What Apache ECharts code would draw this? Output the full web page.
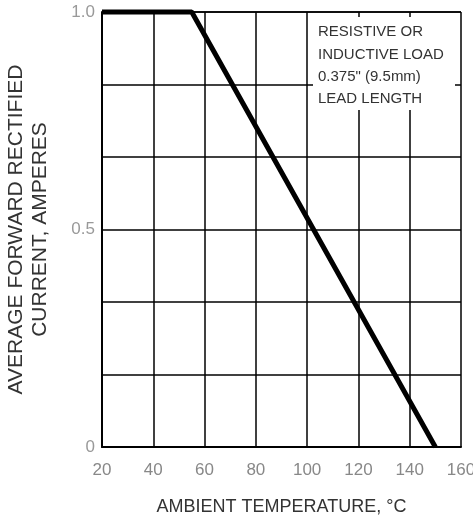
<!DOCTYPE html>
<html><head><meta charset="utf-8">
<script src="https://cdn.jsdelivr.net/npm/echarts@6/dist/echarts.min.js"></script>
<style>html,body{margin:0;padding:0;background:#fff}#c{width:473px;height:520px}</style>
</head><body><div id="c"></div>
<script>
const temperatures = [20, 55, 150];
const currents = [1.0, 1.0, 0];
const xTicks = [20, 40, 60, 80, 100, 120, 140, 160];
const yTickLabels = {"0": "0", "0.5": "0.5", "1": "1.0"};
const xTitle = "AMBIENT TEMPERATURE, \u00B0C";
const yTitle = "AVERAGE FORWARD RECTIFIED\nCURRENT, AMPERES";
const noteLines = ["RESISTIVE OR", "INDUCTIVE LOAD", "0.375\" (9.5mm)", "LEAD LENGTH"];

const font = "Liberation Sans";
const chart = echarts.init(document.getElementById('c'), null, {renderer: 'canvas'});
chart.setOption({
  animation: false,
  backgroundColor: '#fff',
  grid: {left: 102, right: 12, top: 12, bottom: 73, containLabel: false, outerBoundsMode: 'none'},
  xAxis: {
    type: 'value', min: xTicks[0], max: xTicks[xTicks.length - 1], interval: 20,
    name: xTitle, nameLocation: 'middle', nameGap: 51,
    nameTextStyle: {fontFamily: font, fontSize: 18, color: '#333'},
    axisLine: {lineStyle: {color: '#000', width: 2}},
    axisTick: {show: false},
    axisLabel: {fontFamily: font, fontSize: 17, color: '#888', margin: 15},
    splitLine: {show: true, lineStyle: {color: '#000', width: 1.5}}
  },
  yAxis: {
    type: 'value', min: 0, max: 1, interval: 1 / 6,
    name: yTitle, nameLocation: 'middle', nameGap: 50, nameRotate: 90,
    nameTextStyle: {fontFamily: font, fontSize: 21, color: '#333', lineHeight: 24, align: 'center'},
    axisLine: {show: true, lineStyle: {color: '#000', width: 2}},
    axisTick: {show: false},
    axisLabel: {
      fontFamily: font, fontSize: 17, color: '#999', margin: 7,
      formatter: function (v) {
        for (const k in yTickLabels) { if (Math.abs(v - Number(k)) < 1e-6) return yTickLabels[k]; }
        return '';
      }
    },
    splitLine: {show: true, lineStyle: {color: '#000', width: 1.5}}
  },
  graphic: [{
    type: 'group', right: 18, top: 17, z: 100,
    children: [
      {type: 'rect', z: 100, shape: {x: 0, y: 0, width: 142, height: 93}, style: {fill: '#fff'}},
      {type: 'text', z: 101, x: 5, y: 4, style: {
        text: noteLines.join('\n'), font: '15px "Liberation Sans"', fill: '#333', lineHeight: 22.3
      }}
    ]
  }],
  series: [{
    type: 'line', showSymbol: false,
    data: temperatures.map((t, i) => [t, currents[i]]),
    lineStyle: {color: '#000', width: 5},
    clip: false
  }]
});
</script></body></html>
